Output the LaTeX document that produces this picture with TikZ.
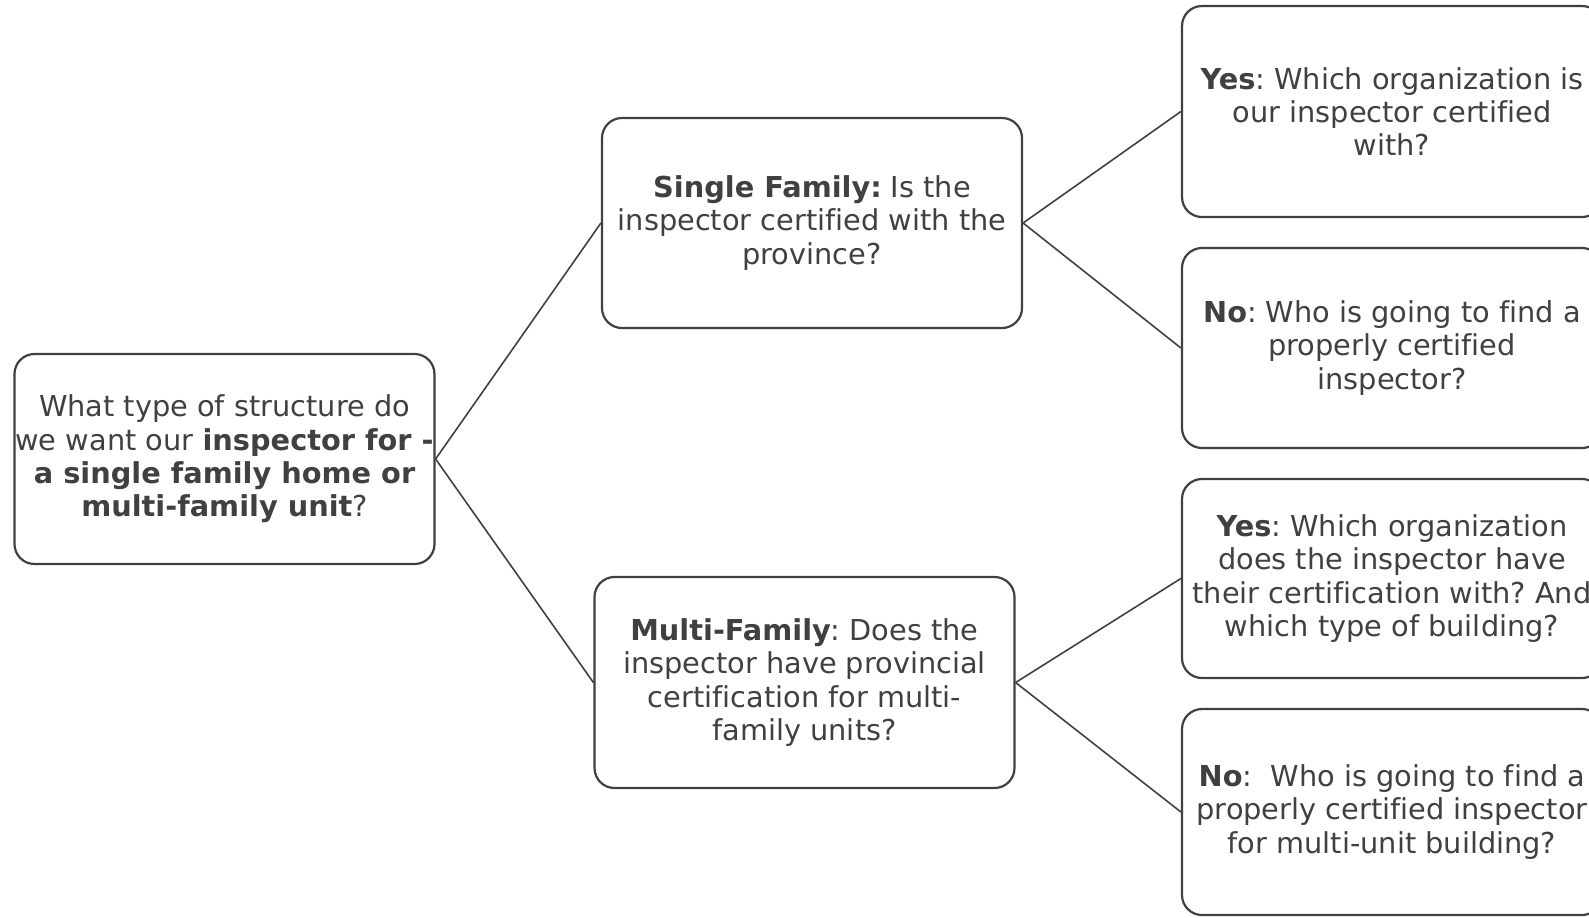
\documentclass[tikz,border=0pt]{standalone}
\usepackage{fontspec}
\setmainfont[Ligatures=CommonOff]{DejaVu Sans}
\frenchspacing
\definecolor{ink}{RGB}{64,64,64}
\begin{document}
\begin{tikzpicture}[x=0.5pt,y=-0.5pt,
  box/.style={draw=ink,line width=1.1pt,rounded corners=10pt,align=center,
    text=ink,font=\fontsize{14.4}{16.7}\selectfont,inner sep=0pt,
    minimum width=210pt},
  link/.style={draw=ink,line width=0.8pt}]
\clip (0,0) rectangle (1589,917);

% Root question
\node[box,minimum height=105pt] (root) at (224.5,459)
  {What type of structure do\\ we want our \textbf{inspector for -}\\
   \textbf{a single family home or}\\ \textbf{multi-family unit}?};

% Second level
\node[box,minimum height=105pt] (single) at (812,223)
  {\textbf{Single Family:} Is the\\ inspector certified with the\\ province?};
\node[box,minimum height=105.5pt] (multi) at (804.5,682.5)
  {\textbf{Multi-Family}: Does the\\ inspector have provincial\\
   certification for multi-\\ family units?};

% Answers
\node[box,minimum height=105.5pt] (singleyes) at (1392,111.5)
  {\textbf{Yes}: Which organization is\\ our inspector certified\\ with?};
\node[box,minimum height=100pt] (singleno) at (1392,348)
  {\textbf{No}: Who is going to find a\\ properly certified\\ inspector?};
\node[box,minimum height=99.5pt] (multiyes) at (1392,578.5)
  {\textbf{Yes}: Which organization\\ does the inspector have\\
   their certification with? And\\ which type of building?};
\node[box,minimum height=103pt] (multino) at (1392,812)
  {\textbf{No}:\ \ Who is going to find a\\ properly certified inspector\\
   for multi-unit building?};

% Links
\draw[link] (root.east) -- (single.west);
\draw[link] (root.east) -- (multi.west);
\draw[link] (single.east) -- (singleyes.west);
\draw[link] (single.east) -- (singleno.west);
\draw[link] (multi.east) -- (multiyes.west);
\draw[link] (multi.east) -- (multino.west);
\end{tikzpicture}
\end{document}
